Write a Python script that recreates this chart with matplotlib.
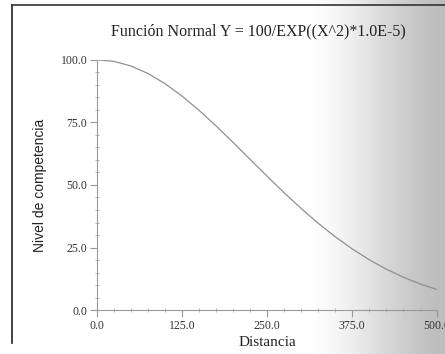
import numpy as np
import matplotlib
matplotlib.use("Agg")
import matplotlib.pyplot as plt
from matplotlib.ticker import MultipleLocator, FormatStrFormatter

distancia = [0, 25, 50, 75, 100, 125, 150, 175, 200, 225, 250, 275, 300,
             325, 350, 375, 400, 425, 450, 475, 500]
nivel = [100.0, 99.38, 97.53, 94.53, 90.48, 85.53, 79.85, 73.62, 67.03, 60.28,
         53.53, 46.94, 40.66, 34.78, 29.38, 24.51, 20.19, 16.43, 13.20, 10.47, 8.21]
x_ticks = [0.0, 125.0, 250.0, 375.0, 500.0]
y_ticks = [0.0, 25.0, 50.0, 75.0, 100.0]

plt.rcParams['font.family'] = ['Liberation Serif', 'DejaVu Serif']

fig = plt.figure(figsize=(4.45, 3.54), dpi=100)

# scan background gradient
bg = fig.add_axes([0, 0, 1, 1], zorder=-10)
grad = np.linspace(0, 1, 445)
t = np.clip((grad - 0.70) / 0.30, 0, 1)
shade = t * t * (3 - 2 * t) * 0.6 + t * 0.4
img = np.ones((10, 445, 3)) * (1 - 0.26 * shade)[None, :, None]
bg.imshow(img, aspect='auto', extent=[0, 1, 0, 1])
bg.set_xlim(0, 1); bg.set_ylim(0, 1)
bg.axis('off')
# frame lines
bg.plot([0.027, 0.027], [0.03, 0.986], color='#222222', lw=1.2)
bg.plot([0.027, 1.0], [0.986, 0.986], color='#333333', lw=1.2)

ax = fig.add_axes([0.218, 0.124, 0.764, 0.707])
ax.set_facecolor('none')
ax.plot(distancia, nivel, color='#909090', lw=0.9)
ax.set_xlim(0, 500)
ax.set_ylim(0, 100)
for s in ['top', 'right']:
    ax.spines[s].set_visible(False)
for s in ['left', 'bottom']:
    ax.spines[s].set_color('#999999')
    ax.spines[s].set_linewidth(0.8)
ax.set_xticks(x_ticks)
ax.set_yticks(y_ticks)
ax.xaxis.set_major_formatter(FormatStrFormatter('%.1f'))
ax.yaxis.set_major_formatter(FormatStrFormatter('%.1f'))
ax.xaxis.set_minor_locator(MultipleLocator(25))
ax.yaxis.set_minor_locator(MultipleLocator(5))
ax.tick_params(which='major', direction='out', length=5, color='#999999',
               labelsize=8.5, labelcolor='#333333', pad=2)
ax.tick_params(which='minor', direction='inout', length=3, color='#aaaaaa')
ax.set_xlabel('Distancia', fontsize=11, color='#222222', labelpad=3)
ax.set_ylabel('Nivel de competencia', fontsize=10, color='#222222',
              family=['Liberation Sans'], labelpad=10)
fig.text(0.58, 0.91, 'Función Normal Y = 100/EXP((X^2)*1.0E-5)',
         ha='center', va='center', fontsize=11.5, color='#222222')

fig.savefig('out.png', dpi=100)
